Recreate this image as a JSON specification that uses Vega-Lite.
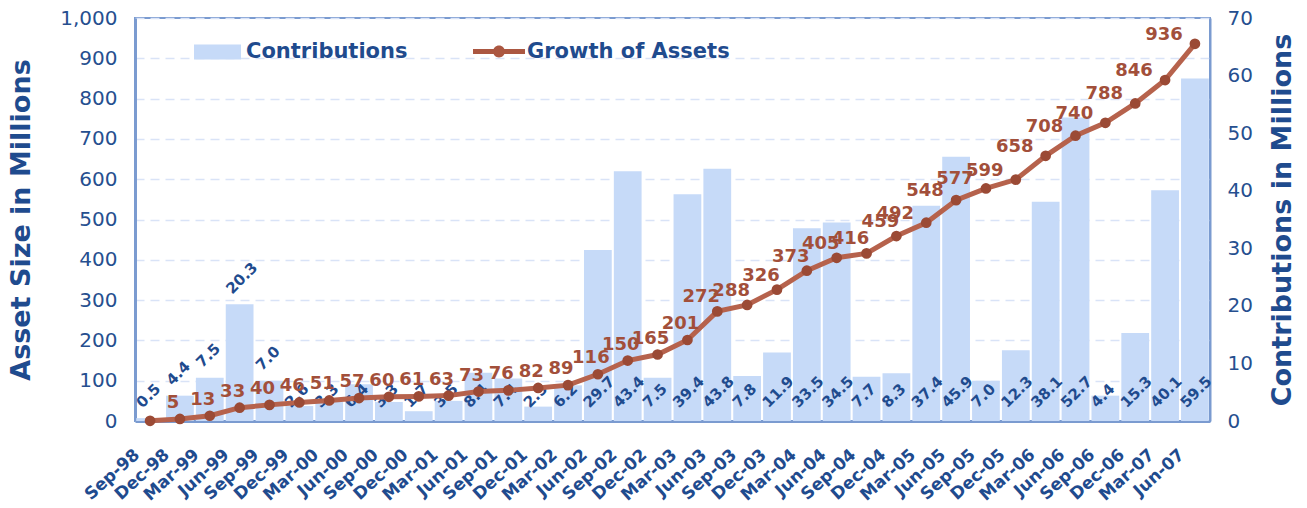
{
  "$schema": "https://vega.github.io/schema/vega-lite/v6.json",
  "width": 1075,
  "height": 403,
  "autosize": {"type": "none"},
  "padding": {"left": 135, "top": 18, "right": 97, "bottom": 87},
  "background": "white",
  "config": {
    "font": "DejaVu Sans",
    "view": {"stroke": "#7b9bd0", "strokeWidth": 2}
  },
  "data": {
    "values": [
      {"q": "Sep-98", "c": 0.5, "a": 0.5},
      {"q": "Dec-98", "c": 4.4, "a": 5},
      {"q": "Mar-99", "c": 7.5, "a": 13},
      {"q": "Jun-99", "c": 20.3, "a": 33},
      {"q": "Sep-99", "c": 7.0, "a": 40},
      {"q": "Dec-99", "c": 2.6, "a": 46},
      {"q": "Mar-00", "c": 3.3, "a": 51},
      {"q": "Jun-00", "c": 6.4, "a": 57},
      {"q": "Sep-00", "c": 3.3, "a": 60},
      {"q": "Dec-00", "c": 1.7, "a": 61},
      {"q": "Mar-01", "c": 3.5, "a": 63},
      {"q": "Jun-01", "c": 8.4, "a": 73},
      {"q": "Sep-01", "c": 7.4, "a": 76},
      {"q": "Dec-01", "c": 2.5, "a": 82},
      {"q": "Mar-02", "c": 6.2, "a": 89},
      {"q": "Jun-02", "c": 29.7, "a": 116},
      {"q": "Sep-02", "c": 43.4, "a": 150},
      {"q": "Dec-02", "c": 7.5, "a": 165},
      {"q": "Mar-03", "c": 39.4, "a": 201},
      {"q": "Jun-03", "c": 43.8, "a": 272},
      {"q": "Sep-03", "c": 7.8, "a": 288},
      {"q": "Dec-03", "c": 11.9, "a": 326},
      {"q": "Mar-04", "c": 33.5, "a": 373},
      {"q": "Jun-04", "c": 34.5, "a": 405},
      {"q": "Sep-04", "c": 7.7, "a": 416},
      {"q": "Dec-04", "c": 8.3, "a": 459},
      {"q": "Mar-05", "c": 37.4, "a": 492},
      {"q": "Jun-05", "c": 45.9, "a": 548},
      {"q": "Sep-05", "c": 7.0, "a": 577},
      {"q": "Dec-05", "c": 12.3, "a": 599},
      {"q": "Mar-06", "c": 38.1, "a": 658},
      {"q": "Jun-06", "c": 52.7, "a": 708},
      {"q": "Sep-06", "c": 4.4, "a": 740},
      {"q": "Dec-06", "c": 15.3, "a": 788},
      {"q": "Mar-07", "c": 40.1, "a": 846},
      {"q": "Jun-07", "c": 59.5, "a": 936}
    ]
  },
  "encoding": {
    "x": {
      "field": "q", "type": "ordinal", "sort": null,
      "scale": {"paddingInner": 0.07, "paddingOuter": 0.04},
      "axis": {
        "title": null, "ticks": false, "domain": true, "domainColor": "#7b9bd0", "domainWidth": 3,
        "labelAngle": -42, "labelAlign": "right", "labelBaseline": "middle",
        "labelFontSize": 17, "labelFontWeight": "bold", "labelColor": "#1f4b8e",
        "labelPadding": 31, "labelOffset": -13, "labelOverlap": false, "labelBound": false
      }
    }
  },
  "layer": [
    {
      "encoding": {
        "y": {
          "field": "c", "type": "quantitative",
          "scale": {"domain": [0, 70], "nice": false},
          "axis": {
            "orient": "right", "values": [0, 10, 20, 30, 40, 50, 60, 70], "grid": false, "ticks": false,
            "domain": true, "domainColor": "#7b9bd0", "domainWidth": 2,
            "labelFontSize": 20, "labelColor": "#264f8f", "labelPadding": 17,
            "title": "Contributions in Millions", "titleFontSize": 27, "titleFontWeight": "bold",
            "titleColor": "#1f4b8e", "titleAngle": 270, "titleX": 72, "titleY": 201.5,
            "titleAlign": "center", "titleBaseline": "middle"
          }
        }
      },
      "layer": [
        {
          "mark": {"type": "bar"},
          "encoding": {
            "color": {
              "datum": "Contributions",
              "scale": {"range": ["#c6daf8"]},
              "legend": {
                "orient": "none", "legendX": 59, "legendY": 10.5, "padding": 0, "title": null,
                "symbolType": "M-1,-0.32H1V0.32H-1Z", "symbolSize": 2209, "symbolStrokeWidth": 0,
                "labelFontSize": 21, "labelFontWeight": "bold", "labelColor": "#1f4b8e",
                "labelOffset": 5, "labelLimit": 400
              }
            }
          }
        },
        {
          "transform": [{"filter": {"field": "q", "oneOf": ["Sep-98", "Dec-98", "Mar-99", "Jun-99", "Sep-99"]}}],
          "mark": {"type": "text", "angle": 315, "align": "left", "baseline": "middle", "xOffset": -11, "yOffset": -13,
                   "fontSize": 15, "fontWeight": "bold", "color": "#1f4b8e"},
          "encoding": {"text": {"field": "c", "type": "quantitative", "format": ".1f"}}
        },
        {
          "transform": [{"filter": {"not": {"field": "q", "oneOf": ["Sep-98", "Dec-98", "Mar-99", "Jun-99", "Sep-99"]}}}],
          "mark": {"type": "text", "angle": 315, "align": "left", "baseline": "middle", "xOffset": -12, "yOffset": -16,
                   "fontSize": 15, "fontWeight": "bold", "color": "#1f4b8e"},
          "encoding": {
            "y": {"datum": 0, "type": "quantitative"},
            "text": {"field": "c", "type": "quantitative", "format": ".1f"}
          }
        }
      ]
    },
    {
      "encoding": {
        "y": {
          "field": "a", "type": "quantitative",
          "scale": {"domain": [0, 1000], "nice": false},
          "axis": {
            "orient": "left", "values": [0, 100, 200, 300, 400, 500, 600, 700, 800, 900, 1000], "format": ",d",
            "grid": true, "gridColor": "#d9e3f7", "gridDash": [9, 6], "gridWidth": 1.5,
            "ticks": false, "domain": true, "domainColor": "#7b9bd0", "domainWidth": 3,
            "labelFontSize": 20, "labelColor": "#264f8f", "labelPadding": 18,
            "title": "Asset Size in Millions", "titleFontSize": 27, "titleFontWeight": "bold",
            "titleColor": "#1f4b8e", "titleAngle": 270, "titleX": -114, "titleY": 201.5,
            "titleAlign": "center", "titleBaseline": "middle"
          }
        }
      },
      "layer": [
        {
          "mark": {"type": "line", "strokeWidth": 5},
          "encoding": {
            "color": {
              "datum": "Growth of Assets",
              "scale": {"range": ["#b6624c"]},
              "legend": {
                "orient": "none", "legendX": 338, "legendY": 7.5, "padding": 0, "title": null,
                "symbolType": "M-1,-0.095H1V0.095H-1Z M0.23,0A0.23,0.23 0 1,1 -0.23,0A0.23,0.23 0 1,1 0.23,0Z",
                "symbolSize": 2704, "symbolStrokeWidth": 0,
                "labelFontSize": 21, "labelFontWeight": "bold", "labelColor": "#1f4b8e",
                "labelOffset": 2, "labelLimit": 400,
                "encode": {"symbols": {"update": {"fill": {"value": "#ab5741"}, "stroke": {"value": "transparent"}, "strokeWidth": {"value": 0}}}}
              }
            }
          }
        },
        {
          "mark": {"type": "point", "filled": true, "size": 115, "color": "#9b4a35", "opacity": 1}
        },
        {
          "transform": [{"filter": {"field": "q", "oneOf": ["Dec-98", "Mar-99", "Jun-99", "Sep-99", "Dec-99", "Mar-00", "Jun-00", "Sep-00", "Dec-00", "Mar-01", "Jun-01", "Sep-01", "Dec-01", "Mar-02", "Jun-02", "Sep-02", "Dec-02", "Mar-03"]}}],
          "mark": {"type": "text", "align": "center", "baseline": "middle", "xOffset": -7, "yOffset": -16,
                   "fontSize": 18, "fontWeight": "bold", "color": "#a24f3a"},
          "encoding": {"text": {"field": "a", "type": "quantitative", "format": "d"}}
        },
        {
          "transform": [{"filter": {"field": "q", "oneOf": ["Jun-03", "Sep-03", "Dec-03", "Mar-04", "Jun-04", "Sep-04", "Dec-04"]}}],
          "mark": {"type": "text", "align": "center", "baseline": "middle", "xOffset": -16, "yOffset": -14,
                   "fontSize": 18, "fontWeight": "bold", "color": "#a24f3a"},
          "encoding": {"text": {"field": "a", "type": "quantitative", "format": "d"}}
        },
        {
          "transform": [{"filter": {"field": "q", "oneOf": ["Mar-05", "Jun-05", "Sep-05", "Dec-05", "Mar-06", "Jun-06", "Sep-06", "Dec-06", "Mar-07", "Jun-07"]}}],
          "mark": {"type": "text", "align": "center", "baseline": "middle", "xOffset": -31, "yOffset": -9,
                   "fontSize": 18, "fontWeight": "bold", "color": "#a24f3a"},
          "encoding": {"text": {"field": "a", "type": "quantitative", "format": "d"}}
        }
      ]
    }
  ],
  "resolve": {"scale": {"y": "independent", "color": "independent"}}
}
